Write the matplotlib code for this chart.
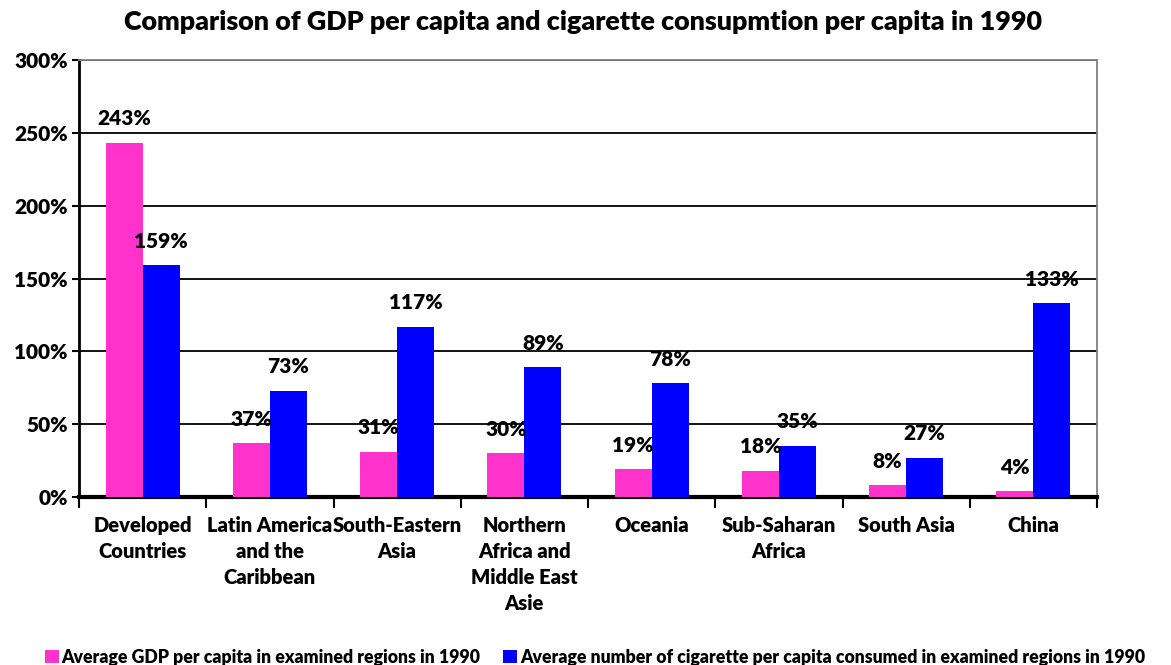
import numpy as np
import matplotlib
matplotlib.use("Agg")
import matplotlib.pyplot as plt
from matplotlib.ticker import FixedLocator, FuncFormatter

# ============================================================
# DATA
# ============================================================

regions = [
    "Developed\nCountries",
    "Latin America\nand the\nCaribbean",
    "South-Eastern\nAsia",
    "Northern\nAfrica and\nMiddle East\nAsie",
    "Oceania",
    "Sub-Saharan\nAfrica",
    "South Asia",
    "China",
]
gdp_pct = [243, 37, 31, 30, 19, 18, 8, 4]
cig_pct = [159, 73, 117, 89, 78, 35, 27, 133]

gdp_label = "Average GDP per capita in examined regions in 1990"
cig_label = "Average number of cigarette per capita consumed in examined regions in 1990"
title = "Comparison of GDP per capita and cigarette consupmtion per capita in 1990"

# ============================================================
# STYLE
# ============================================================

plt.rcParams['font.family'] = ['Lato', 'DejaVu Sans']
plt.rcParams['font.weight'] = 'heavy'
W = 'heavy'

PINK = '#FF33CC'
BLUE = '#0000FF'

fig = plt.figure(figsize=(11.71, 6.65), dpi=100)
ax = fig.add_axes([0.0675, 0.2526, 0.8693, 0.6572])

x = np.arange(len(regions))
width = 0.29

b1 = ax.bar(x - width / 2, gdp_pct, width, color=PINK, label=gdp_label, zorder=3)
b2 = ax.bar(x + width / 2, cig_pct, width, color=BLUE, label=cig_label, zorder=3)

# value labels above each bar
for bars in (b1, b2):
    for rect in bars:
        h = rect.get_height()
        ax.annotate(f"{h:.0f}%", xy=(rect.get_x() + rect.get_width() / 2, h),
                    xytext=(0, 10.5), textcoords='offset points',
                    ha='center', va='bottom', fontsize=15, fontweight=W,
                    zorder=5)

# ============================================================
# AXES
# ============================================================

ax.set_xlim(-0.5, len(regions) - 0.5)
ax.set_ylim(0, 300)

ax.yaxis.set_major_locator(FixedLocator(np.arange(0, 301, 50)))
ax.yaxis.set_major_formatter(FuncFormatter(lambda v, p: f"{v:.0f}%"))
ax.tick_params(axis='y', labelsize=15, length=5, width=1.5, pad=3)
for lbl in ax.get_yticklabels():
    lbl.set_fontweight(W)

ax.set_xticks(x)
ax.set_xticklabels(regions, fontsize=14.5, fontweight=W, linespacing=1.42)
ax.tick_params(axis='x', length=0, pad=14)
ax.xaxis.set_minor_locator(FixedLocator(np.arange(-0.5, len(regions), 1)))
ax.tick_params(axis='x', which='minor', length=8, width=1.5)

ax.grid(axis='y', color='black', linewidth=1.3, zorder=0)

ax.spines['left'].set_linewidth(2)
ax.spines['bottom'].set_linewidth(3)
ax.spines['top'].set_color('#808080')
ax.spines['right'].set_color('#808080')
ax.spines['top'].set_linewidth(1.3)
ax.spines['right'].set_linewidth(1.3)

fig.suptitle(title, fontsize=19.4, fontweight=W, x=0.498, y=0.985)

fig.legend(handles=[b1, b2], loc='lower center', bbox_to_anchor=(0.508, -0.025),
           ncol=2, frameon=False, handlelength=0.8, handleheight=0.8,
           handletextpad=0.15, columnspacing=1.3, prop={'weight': W, 'size': 12.7})

fig.savefig("out.png", dpi=100)
